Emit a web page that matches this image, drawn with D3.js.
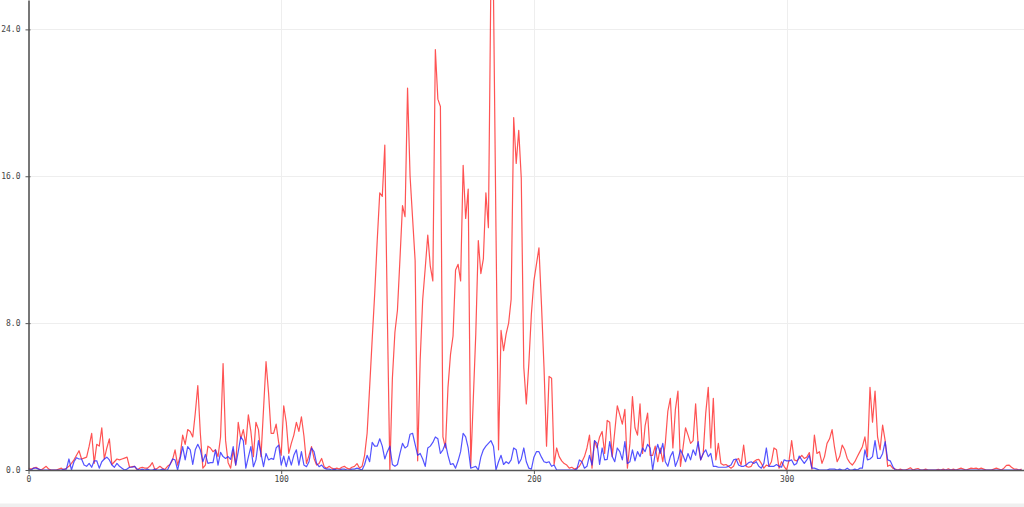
<!DOCTYPE html>
<html>
<head>
<meta charset="utf-8">
<script src="https://cdn.jsdelivr.net/npm/d3@7"></script>
<style>
  html, body { margin: 0; padding: 0; background: #fff; overflow: hidden; }
  svg { display: block; }
</style>
</head>
<body>
<svg id="chart" width="1024" height="507"></svg>
<script>
// ---- data (one value per x step) ----
const redValues = [
  0.1, 0.05, 0.1, 0.15, 0.05, 0.0, 0.1, 0.2, 0.05, 0.0,
  0.0, 0.0, 0.05, 0.1, 0.0, 0.1, 0.2, 0.36, 0.55, 0.8,
  1.05, 0.6, 0.65, 0.7, 1.3, 2.0, 0.36, 1.4, 1.3, 2.3,
  0.6, 1.2, 1.7, 0.3, 0.45, 0.6, 0.55, 0.6, 0.65, 0.7,
  0.15, 0.18, 0.2, 0.0, 0.1, 0.15, 0.1, 0.1, 0.2, 0.4,
  0.03, 0.1, 0.2, 0.1, 0.03, 0.2, 0.3, 0.55, 1.1, 0.27,
  0.73, 1.9, 1.4, 2.2, 2.1, 1.8, 3.1, 4.6, 2.0, 0.1,
  0.27, 1.3, 1.2, 1.0, 1.1, 0.73, 1.8, 5.8, 1.6, 0.4,
  0.1, 1.1, 0.27, 2.6, 1.7, 2.2, 1.4, 3.0, 2.1, 0.73,
  2.6, 2.2, 0.73, 3.3, 5.9, 4.2, 2.0, 2.0, 2.5, 1.5,
  0.8, 3.5, 2.6, 0.9, 1.45, 1.9, 2.6, 2.1, 2.9, 1.85,
  0.36, 0.8, 1.27, 0.63, 0.27, 0.36, 0.63, 0.18, 0.1, 0.2,
  0.1, 0.05, 0.1, 0.05, 0.15, 0.2, 0.1, 0.05, 0.15, 0.2,
  0.35, 0.1, 0.2, 0.8, 2.0, 4.5, 7.1, 9.6, 12.5, 15.1,
  14.9, 17.7, 8.5, 0.0, 5.0, 7.5, 8.7, 11.5, 14.4, 13.8,
  20.8, 16.0, 13.7, 11.4, 0.5, 6.0, 9.3, 11.0, 12.8, 11.1,
  10.3, 22.9, 20.2, 19.8, 1.8, 1.2, 4.5, 6.3, 7.3, 10.9,
  11.2, 10.3, 16.6, 13.7, 15.3, 0.2, 3.8, 7.4, 12.5, 10.7,
  11.5, 15.1, 13.2, 27.0, 26.0, 13.0, 1.1, 7.6, 6.5, 7.4,
  8.0, 9.3, 19.2, 16.7, 18.5, 15.9, 5.6, 3.6, 5.8, 8.5,
  10.3, 11.2, 12.1, 9.0, 5.6, 1.3, 5.1, 5.0, 0.3, 1.2,
  0.73, 0.5, 0.35, 0.27, 0.1, 0.15, 0.05, 0.1, 0.2, 0.45,
  0.73, 1.2, 1.9, 0.1, 1.6, 1.2, 1.8, 2.1, 0.9, 2.7,
  2.6, 0.73, 2.1, 3.5, 3.0, 2.5, 3.3, 0.1, 1.45, 4.0,
  2.3, 1.9, 3.6, 0.9, 2.4, 3.1, 0.8, 0.8, 1.3, 0.45,
  1.2, 0.45, 1.45, 3.2, 3.9, 1.2, 3.3, 4.3, 0.2, 1.2,
  2.3, 1.9, 1.45, 1.6, 3.6, 1.36, 0.55, 0.9, 3.1, 4.5,
  1.2, 3.9, 0.55, 1.45, 0.36, 0.27, 0.3, 0.2, 0.1, 0.2,
  0.55, 0.63, 0.27, 1.36, 0.2, 0.15, 0.2, 0.45, 0.55, 0.58,
  0.36, 0.1, 0.27, 0.2, 0.45, 1.2, 1.1, 0.1, 0.45, 0.2,
  0.0, 0.55, 1.6, 0.55, 0.5, 0.63, 0.8, 0.63, 0.7, 0.95,
  0.05, 1.9, 0.9, 1.0, 0.36, 0.73, 1.45, 1.7, 2.2, 1.2,
  0.45, 0.73, 1.36, 1.1, 0.63, 0.4, 0.27, 0.45, 0.73, 1.0,
  1.27, 1.8, 0.73, 4.5, 2.6, 4.3, 1.8, 1.1, 2.45, 1.6,
  0.2, 0.27, 0.1, 0.05, 0.0, 0.05, 0.0, 0.0, 0.05, 0.12,
  0.0, 0.05, 0.08, 0.0, 0.0, 0.05, 0.0, 0.0, 0.0, 0.0,
  0.03, 0.0, 0.05, 0.0, 0.06, 0.0, 0.05, 0.0, 0.05, 0.1,
  0.05, 0.0, 0.05, 0.1, 0.08, 0.1, 0.05, 0.1, 0.05, 0.0,
  0.0, 0.0, 0.05, 0.1, 0.05, 0.0, 0.1, 0.25, 0.27, 0.15,
  0.05, 0.05, 0.0, 0.05
];

const blueValues = [
  0.05, 0.0, 0.1, 0.1, 0.05, 0.0, 0.0, 0.0, 0.0, 0.0,
  0.0, 0.0, 0.0, 0.0, 0.05, 0.05, 0.6, 0.0, 0.45, 0.67,
  0.6, 0.6, 0.27, 0.2, 0.36, 0.15, 0.5, 0.5, 0.1, 0.45,
  0.6, 0.7, 0.55, 0.27, 0.15, 0.36, 0.2, 0.1, 0.0, 0.05,
  0.15, 0.15, 0.2, 0.05, 0.0, 0.05, 0.0, 0.05, 0.0, 0.0,
  0.05, 0.0, 0.0, 0.05, 0.0, 0.0, 0.3, 0.6, 0.55, 0.0,
  0.6, 1.27, 0.55, 1.27, 1.1, 0.3, 1.1, 1.4, 1.1, 0.45,
  0.85, 0.36, 0.4, 0.4, 1.1, 0.27, 0.96, 0.73, 0.63, 0.73,
  0.58, 1.27, 0.27, 1.0, 1.8, 1.6, 0.1, 0.7, 1.27, 0.18,
  0.55, 1.6, 0.9, 0.18, 0.9, 0.55, 0.63, 0.58, 1.2, 1.36,
  0.27, 0.76, 0.18, 0.76, 0.27, 0.8, 1.1, 0.27, 1.0, 0.27,
  0.18, 0.45, 1.2, 1.0, 0.36, 0.18, 0.27, 0.1, 0.05, 0.05,
  0.0, 0.05, 0.0, 0.0, 0.05, 0.05, 0.0, 0.0, 0.05, 0.05,
  0.1, 0.05, 0.0, 0.3, 0.8, 0.45, 1.5, 1.3, 1.3, 1.7,
  1.3, 0.6, 1.0, 1.3, 0.3, 0.2, 0.3, 0.9, 1.45, 1.2,
  1.3, 1.95, 2.0, 1.4, 0.8, 0.9, 0.6, 0.2, 1.2, 1.3,
  1.5, 1.8, 1.7, 0.9, 1.1, 1.45, 0.8, 0.3, 0.35, 0.1,
  0.5, 1.0, 2.0, 1.8, 1.2, 0.1, 0.15, 0.2, 0.0, 0.7,
  1.1, 1.3, 1.45, 1.6, 1.3, 0.0, 0.45, 0.8, 0.3, 0.45,
  0.35, 0.55, 1.2, 1.1, 0.35, 0.6, 1.2, 0.45, 0.1, 0.05,
  0.7, 1.0, 1.0, 0.7, 0.45, 0.4, 0.45, 0.2, 0.27, 0.0,
  0.0, 0.0, 0.0, 0.0, 0.0, 0.0, 0.0, 0.05, 0.55, 0.45,
  0.1, 0.2, 0.8, 0.27, 1.6, 1.45, 0.3, 1.2, 0.55, 0.58,
  1.55, 0.73, 0.45, 1.2, 1.0, 0.55, 1.55, 0.36, 0.45, 1.1,
  0.5, 1.0, 0.73, 1.2, 1.0, 1.4, 1.2, 0.0, 0.9, 1.4,
  0.9, 1.45, 0.45, 0.2, 0.73, 1.0, 0.2, 0.55, 1.1, 0.8,
  0.45, 0.9, 0.55, 1.1, 0.8, 1.55, 0.55, 0.9, 1.1, 0.73,
  0.9, 0.2, 0.2, 0.15, 0.15, 0.15, 0.15, 0.2, 0.27, 0.55,
  0.6, 0.27, 0.2, 0.2, 0.27, 0.4, 0.45, 0.36, 0.45, 0.2,
  0.1, 0.36, 1.2, 0.2, 0.2, 0.2, 0.3, 0.2, 0.15, 0.55,
  0.5, 0.5, 0.55, 0.27, 0.36, 0.76, 0.55, 0.36, 0.55, 0.8,
  0.1, 0.1, 0.05, 0.0, 0.0, 0.0, 0.0, 0.05, 0.05, 0.05,
  0.0, 0.05, 0.0, 0.0, 0.1, 0.0, 0.0, 0.05, 0.0, 0.1,
  0.1, 1.1, 0.55, 0.6, 0.73, 1.6, 0.63, 0.63, 0.9, 1.55,
  0.55, 0.5, 0.2, 0.0, 0.0, 0.0, 0.0, 0.0, 0.0, 0.0,
  0.0, 0.0, 0.0, 0.0, 0.0, 0.0, 0.0, 0.0, 0.0, 0.0,
  0.0, 0.0, 0.0, 0.0, 0.0, 0.0, 0.0, 0.0, 0.0, 0.0,
  0.0, 0.0, 0.0, 0.0, 0.0, 0.0, 0.0, 0.0, 0.0, 0.0,
  0.0, 0.0, 0.0, 0.0, 0.0, 0.0, 0.0, 0.0, 0.0, 0.0,
  0.0, 0.0, 0.0, 0.0
];

const xTickValues = [0, 100, 200, 300];
const yTickValues = [0, 8, 16, 24];
const xDomain = [0, 394];
const yDomain = [0, 25.6];

// ---- drawing ----
(function draw() {
  const svg = d3.select("#chart");
  const W = 1024;
  const padL = 28.5, baseY = 470, topY = 0;

  const x = d3.scaleLinear().domain(xDomain).range([padL, padL + 394 * 2.527]);
  const y = d3.scaleLinear().domain(yDomain).range([baseY, topY]);

  // bottom grey band
  svg.append("rect").attr("x", 0).attr("y", 503.5).attr("width", W).attr("height", 4).attr("fill", "#efefef");

  // grid
  const grid = svg.append("g");
  grid.selectAll("line.h").data(yTickValues.filter(d => d > 0)).enter().append("line")
    .attr("x1", padL).attr("x2", W)
    .attr("y1", d => Math.round(y(d)) + 0.5).attr("y2", d => Math.round(y(d)) + 0.5)
    .attr("stroke", "#eeeeee").attr("stroke-width", 1);
  grid.selectAll("line.v").data(xTickValues.filter(d => d > 0)).enter().append("line")
    .attr("x1", d => Math.round(x(d)) + 0.5).attr("x2", d => Math.round(x(d)) + 0.5)
    .attr("y1", topY).attr("y2", baseY)
    .attr("stroke", "#eeeeee").attr("stroke-width", 1);

  // lines
  svg.append("clipPath").attr("id", "plotclip").append("rect")
    .attr("x", padL).attr("y", 0).attr("width", W - padL).attr("height", baseY);

  const lineGen = d3.line().x((d, i) => x(i)).y(d => y(d));
  const plot = svg.append("g").attr("clip-path", "url(#plotclip)");
  plot.append("path").datum(redValues).attr("d", lineGen)
    .attr("fill", "none").attr("stroke", "rgb(255,40,40)").attr("stroke-opacity", 0.8)
    .attr("stroke-width", 1.2).attr("stroke-linejoin", "round");
  plot.append("path").datum(blueValues).attr("d", lineGen)
    .attr("fill", "none").attr("stroke", "rgb(40,40,255)").attr("stroke-opacity", 0.8)
    .attr("stroke-width", 1.2).attr("stroke-linejoin", "round");

  // axes
  const fontFam = "'DejaVu Sans Mono', monospace";
  const yAxis = d3.axisLeft(y).tickValues(yTickValues).tickFormat(d3.format(".1f"))
    .tickSizeInner(3).tickSizeOuter(0).tickPadding(5);
  const gy = svg.append("g").attr("transform", `translate(${padL},0)`).call(yAxis);
  gy.select(".domain").attr("stroke", "#555").attr("stroke-width", 1.6);
  gy.selectAll(".tick line").attr("x1", 2).attr("stroke", "#555");
  gy.selectAll(".tick text").attr("font-family", fontFam).attr("font-size", 8).attr("fill", "#444");

  const xAxis = d3.axisBottom(x).tickValues(xTickValues).tickFormat(d3.format("d"))
    .tickSizeInner(4).tickSizeOuter(0).tickPadding(2);
  const gx = svg.append("g").attr("transform", `translate(0,${baseY})`).call(xAxis);
  gx.select(".domain").attr("stroke", "#555").attr("stroke-width", 1.6);
  gx.selectAll(".tick line").attr("stroke", "#555");
  gx.selectAll(".tick text").attr("font-family", fontFam).attr("font-size", 8).attr("fill", "#444");
})();
</script>
</body>
</html>
